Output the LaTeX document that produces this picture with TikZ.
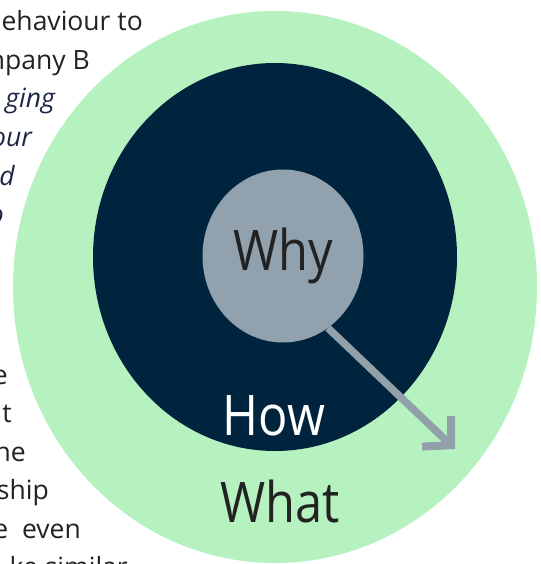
\documentclass[tikz,border=0pt]{standalone}
\usepackage{fontspec}
\setmainfont{Open Sans}
\newfontfamily\bigface[FakeStretch=0.87]{Open Sans}
\usetikzlibrary{shapes.geometric,arrows.meta}
\definecolor{ringgreen}{RGB}{181,242,192}
\definecolor{ringnavy}{RGB}{0,36,61}
\definecolor{coregray}{RGB}{145,162,174}
\definecolor{arrowgray}{RGB}{146,160,170}
\definecolor{inktext}{RGB}{34,34,34}
\definecolor{inkitalic}{RGB}{28,38,72}

\begin{document}
\begin{tikzpicture}[x=1pt, y=-1pt,
		ring/.style={ellipse, inner sep=0pt},
		bodytext/.style={anchor=base east, inner sep=0pt, text=inktext, font=\fontsize{26.5}{30}\selectfont},
		slanttext/.style={bodytext, text=inkitalic, font=\fontsize{26.5}{30}\selectfont\itshape},
		bigword/.style={anchor=base, inner sep=0pt, font=\bigface\fontsize{56}{60}\selectfont}]
		\useasboundingbox (0,0) rectangle (540,564);

		% Text of the page, partly hidden behind the rings
		\foreach \x/\y/\t [count=\i] in {143/31/ehaviour to, 90/69.5/npany B, 8/384/e, 12/422.5/t, 26/461/he, 49/499.5/ship, 81/538/e~~even, 128/576.5/ke similar} {
			\node[bodytext] (line\i) at (\x,\y) {\t};
		}
		\foreach \x/\y/\t [count=\i] in {55/108/ging, 32/146.5/our, 15/185/d, 4/223.5/o} {
			\node[slanttext] (slant\i) at (\x,\y) {\t};
		}

		% Rings
		\node[ring, fill=ringgreen, minimum width=524pt, minimum height=552pt] (what) at (275,287) {};
		\node[ring, fill=ringnavy, minimum width=364pt, minimum height=388pt] (how) at (275,257) {};
		\node[ring, fill=coregray, minimum width=161pt, minimum height=173pt, font=\bigface\fontsize{56}{60}\selectfont, text=inktext] (why) at (283,256) {Why};

		% Labels
		\node[bigword, text=white] (howlabel) at (274,435) {How};
		\node[bigword, text=inktext] (whatlabel) at (280,522) {What};

		% Arrow out of the core
		\coordinate (tip) at (455,449);
		\draw[arrowgray, line width=7.5pt, -{Straight Barb[length=20pt, width=42pt, line width=8pt]}] (why.-58) -- (tip);
	\end{tikzpicture}
\end{document}
